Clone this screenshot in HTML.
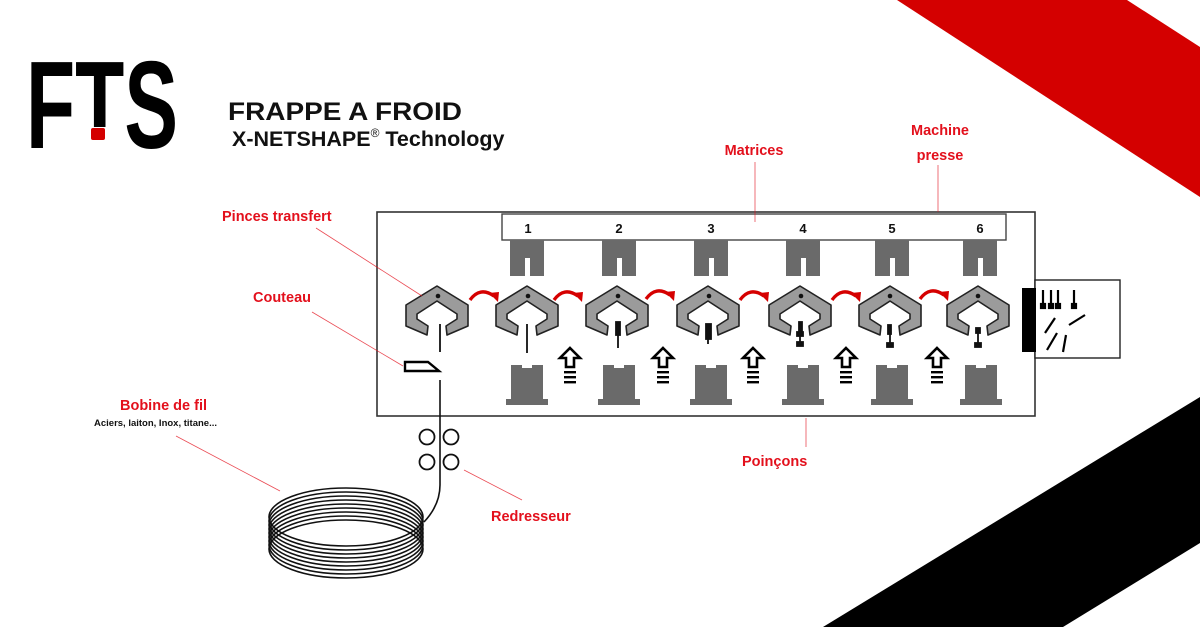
<!DOCTYPE html>
<html><head><meta charset="utf-8"><style>
html,body{margin:0;padding:0;background:#fff;width:1200px;height:627px;overflow:hidden}
svg{display:block}
.lbl{font-family:"Liberation Sans",sans-serif;font-weight:bold;font-size:14.5px;fill:#e3101c}
.num{font-family:"Liberation Sans",sans-serif;font-weight:bold;font-size:13px;fill:#111}
</style></head><body>
<svg width="1200" height="627" viewBox="0 0 1200 627" xmlns="http://www.w3.org/2000/svg">
<defs>
<path id="grip" d="M0,0 L31,19 L31,40 L10,49 L9,40 L20,33 L20,28 L0,15 L-20,28 L-20,33 L-9,40 L-10,49 L-31,40 L-31,19 Z" fill="#9b9b9b" stroke="#222" stroke-width="1.6" stroke-linejoin="round"/>
<g id="die"><path d="M-17,0 L17,0 L17,36 L3,36 L3,18 L-2,18 L-2,36 L-17,36 Z" fill="#6a6a6a"/></g>
<g id="punch"><path d="M-16,0 L-5,0 L-5,3 L5,3 L5,0 L16,0 L16,34 L21,34 L21,40 L-21,40 L-21,34 L-16,34 Z" fill="#6a6a6a"/></g>
<g id="up"><path d="M0,0 L10,10 L4,10 L4,19 L-4,19 L-4,10 L-10,10 Z" fill="#fff" stroke="#000" stroke-width="2.6" stroke-linejoin="miter"/>
<rect x="-6" y="23" width="12" height="2.4" fill="#000"/><rect x="-6" y="28" width="12" height="2.4" fill="#000"/><rect x="-6" y="33" width="12" height="2.4" fill="#000"/></g>
<g id="rarr"><path d="M-16,8 Q-6,-6 8,4" fill="none" stroke="#d50000" stroke-width="3.4"/><path d="M3,1 L13,0 L12,10 Z" fill="#d50000"/></g>
</defs>

<polygon points="897,0 1127,0 1200,47 1200,197" fill="#d40000"/>
<polygon points="823,627 1200,397 1200,543 1063,627" fill="#000"/>

<text x="26" y="148" font-family="Liberation Sans,sans-serif" font-weight="bold" font-size="124" textLength="152" lengthAdjust="spacingAndGlyphs" fill="#000">FTS</text>
<rect x="86" y="127" width="22" height="24" fill="#fff"/>
<rect x="91" y="128" width="14" height="12" rx="2" fill="#d40000"/>

<text x="228" y="120" font-family="Liberation Sans,sans-serif" font-weight="bold" font-size="25" textLength="234" lengthAdjust="spacingAndGlyphs" fill="#111">FRAPPE A FROID</text>
<text x="232" y="146" font-family="Liberation Sans,sans-serif" font-weight="bold" font-size="21.5" fill="#111"><tspan>X-NETSHAPE</tspan><tspan font-size="12" dy="-9" font-weight="normal">®</tspan><tspan dy="9"> Technology</tspan></text>

<rect x="377" y="212" width="658" height="204" fill="none" stroke="#333" stroke-width="1.6"/>
<rect x="1035" y="280" width="85" height="78" fill="#fff" stroke="#222" stroke-width="1.4"/>
<rect x="1022" y="288" width="14" height="64" fill="#000"/>
<g stroke="#000" stroke-width="2.2" fill="#000">
<line x1="1043" y1="290" x2="1043" y2="307"/><line x1="1051" y1="290" x2="1051" y2="307"/><line x1="1058" y1="290" x2="1058" y2="307"/><line x1="1074" y1="290" x2="1074" y2="307"/>
<rect x="1041" y="304" width="4" height="4"/><rect x="1049" y="304" width="4" height="4"/><rect x="1056" y="304" width="4" height="4"/><rect x="1072" y="304" width="4" height="4"/>
<line x1="1045" y1="333" x2="1055" y2="318"/><line x1="1069" y1="325" x2="1085" y2="315"/><line x1="1047" y1="350" x2="1057" y2="333"/><line x1="1063" y1="352" x2="1066" y2="335"/>
</g>

<rect x="502" y="214" width="504" height="26" fill="#fff" stroke="#444" stroke-width="1.4"/>
<text class="num" x="528" y="233" text-anchor="middle">1</text>
<text class="num" x="619" y="233" text-anchor="middle">2</text>
<text class="num" x="711" y="233" text-anchor="middle">3</text>
<text class="num" x="803" y="233" text-anchor="middle">4</text>
<text class="num" x="892" y="233" text-anchor="middle">5</text>
<text class="num" x="980" y="233" text-anchor="middle">6</text>
<use href="#die" x="527" y="240"/><use href="#die" x="619" y="240"/><use href="#die" x="711" y="240"/><use href="#die" x="803" y="240"/><use href="#die" x="892" y="240"/><use href="#die" x="980" y="240"/>

<use href="#grip" x="437" y="286"/><use href="#grip" x="527" y="286"/><use href="#grip" x="617" y="286"/><use href="#grip" x="708" y="286"/><use href="#grip" x="800" y="286"/><use href="#grip" x="890" y="286"/><use href="#grip" x="978" y="286"/>
<circle cx="438" cy="296" r="2.3" fill="#111"/><circle cx="528" cy="296" r="2.3" fill="#111"/><circle cx="618" cy="296" r="2.3" fill="#111"/><circle cx="709" cy="296" r="2.3" fill="#111"/><circle cx="801" cy="296" r="2.3" fill="#111"/><circle cx="890" cy="296" r="2.3" fill="#111"/><circle cx="978" cy="296" r="2.3" fill="#111"/>
<g stroke="#111" stroke-width="1.8" fill="#111">
<line x1="440" y1="324" x2="440" y2="352"/>
<line x1="527" y1="324" x2="527" y2="353"/>
<rect x="616" y="322" width="4" height="13"/><line x1="618" y1="335" x2="618" y2="348"/>
<rect x="706" y="324" width="5" height="15"/><line x1="708" y1="339" x2="708" y2="344"/>
<rect x="799" y="322" width="3" height="9"/><rect x="797" y="332" width="6" height="4"/><line x1="800" y1="336" x2="800" y2="343"/><rect x="797" y="342" width="6" height="4"/>
<rect x="888" y="325" width="3" height="9"/><line x1="890" y1="334" x2="890" y2="344"/><rect x="887" y="343" width="6" height="4"/>
<rect x="976" y="328" width="4" height="5"/><line x1="978" y1="333" x2="978" y2="344"/><rect x="975" y="343" width="6" height="4"/>
</g>
<use href="#rarr" x="486" y="292"/><use href="#rarr" x="570" y="292"/><use href="#rarr" x="662" y="291"/><use href="#rarr" x="756" y="292"/><use href="#rarr" x="848" y="292"/><use href="#rarr" x="936" y="291"/>

<use href="#punch" x="527" y="365"/><use href="#punch" x="619" y="365"/><use href="#punch" x="711" y="365"/><use href="#punch" x="803" y="365"/><use href="#punch" x="892" y="365"/><use href="#punch" x="981" y="365"/>
<use href="#up" x="570" y="348"/><use href="#up" x="663" y="348"/><use href="#up" x="753" y="348"/><use href="#up" x="846" y="348"/><use href="#up" x="937" y="348"/>

<path d="M405,362 L428,362 L439,371 L405,371 Z" fill="#fff" stroke="#000" stroke-width="2.4"/>

<path d="M440,380 L440,485 Q440,505 424,522" fill="none" stroke="#111" stroke-width="1.6"/>
<g fill="none" stroke="#111" stroke-width="1.8">
<circle cx="427" cy="437" r="7.5"/><circle cx="451" cy="437" r="7.5"/><circle cx="427" cy="462" r="7.5"/><circle cx="451" cy="462" r="7.5"/>
</g>
<g fill="none" stroke="#111" stroke-width="1.6">
<ellipse cx="346" cy="517" rx="77" ry="29"/><ellipse cx="346" cy="521" rx="77" ry="29"/><ellipse cx="346" cy="525" rx="77" ry="29"/><ellipse cx="346" cy="529" rx="77" ry="29"/><ellipse cx="346" cy="533" rx="77" ry="29"/><ellipse cx="346" cy="537" rx="77" ry="29"/><ellipse cx="346" cy="541" rx="77" ry="29"/><ellipse cx="346" cy="545" rx="77" ry="29"/><ellipse cx="346" cy="549" rx="77" ry="29"/>
</g>

<g stroke="#e3101c" stroke-width="0.8" opacity="0.75">
<line x1="755" y1="162" x2="755" y2="222"/>
<line x1="938" y1="165" x2="938" y2="212"/>
<line x1="316" y1="228" x2="422" y2="296"/>
<line x1="312" y1="312" x2="403" y2="366"/>
<line x1="176" y1="436" x2="280" y2="491"/>
<line x1="464" y1="470" x2="522" y2="500"/>
<line x1="806" y1="418" x2="806" y2="447"/>
</g>
<text class="lbl" x="754" y="155" text-anchor="middle">Matrices</text>
<text class="lbl" x="940" y="135" text-anchor="middle">Machine</text>
<text class="lbl" x="940" y="160" text-anchor="middle">presse</text>
<text class="lbl" x="222" y="221">Pinces transfert</text>
<text class="lbl" x="253" y="302">Couteau</text>
<text class="lbl" x="120" y="410">Bobine de fil</text>
<text x="94" y="426" font-family="Liberation Sans,sans-serif" font-weight="bold" font-size="9.5" fill="#111">Aciers, laiton, Inox, titane...</text>
<text class="lbl" x="491" y="521">Redresseur</text>
<text class="lbl" x="742" y="466">Poinçons</text>
</svg>
</body></html>
